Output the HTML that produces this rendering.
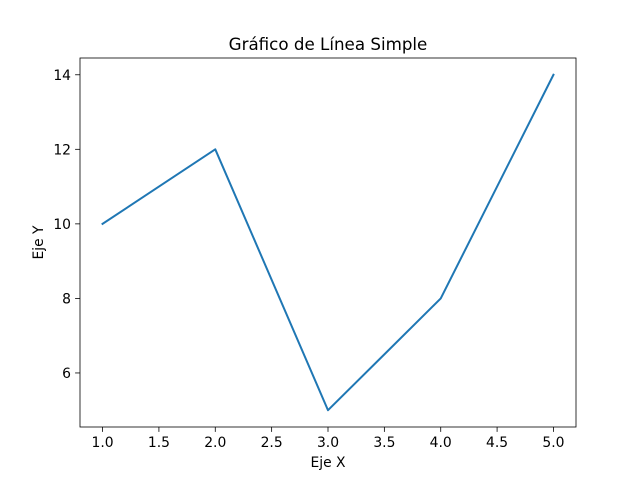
<!DOCTYPE html>
<html><head><meta charset="utf-8"><style>body{margin:0;background:#fff}svg{display:block;font-family:"DejaVu Sans","Liberation Sans",sans-serif}</style></head>
<body>
<svg id="chart" width="640" height="480"></svg>
<script>
const xValues = [1, 2, 3, 4, 5];
const yValues = [10, 12, 5, 8, 14];
const xTicks = [1.0, 1.5, 2.0, 2.5, 3.0, 3.5, 4.0, 4.5, 5.0];
const yTicks = [6, 8, 10, 12, 14];

const L = 80, R = 576, T = 58, B = 427;
const xMin = 0.8, xMax = 5.2, yMin = 4.55, yMax = 14.45;
const sx = v => L + (v - xMin) / (xMax - xMin) * (R - L);
const sy = v => B - (v - yMin) / (yMax - yMin) * (B - T);
const NS = 'http://www.w3.org/2000/svg';
const svg = document.getElementById('chart');
function mk(tag, attrs, parent) {
  const e = document.createElementNS(NS, tag);
  for (const k in attrs) e.setAttribute(k, attrs[k]);
  (parent || svg).appendChild(e);
  return e;
}

const xg = mk('g', {});


xTicks.forEach(t => {
  const x = sx(t);
  mk('line', {x1: x, x2: x, y1: B, y2: B + 4.9, stroke: '#000', 'stroke-width': 0.8}, xg);
  const tx = mk('text', {x: x, y: B + 20, 'font-size': 13.9, 'text-anchor': 'middle'}, xg);
  
  
  tx.textContent = t.toFixed(1);
});
const yg = mk('g', {});


yTicks.forEach(t => {
  const y = sy(t);
  mk('line', {x1: L - 4.9, x2: L, y1: y, y2: y, stroke: '#000', 'stroke-width': 0.8}, yg);
  const tx = mk('text', {x: L - 9, y: y + 5, 'font-size': 13.9, 'text-anchor': 'end'}, yg);
  
  
  tx.textContent = t;
});

const pts = xValues.map((v, i) => sx(v) + ',' + sy(yValues[i])).join(' ');
const line = mk('polyline', {points: pts, fill: 'none', stroke: '#1f77b4', 'stroke-width': 2, 'stroke-linejoin': 'round', 'stroke-linecap': 'square'});



const frame = mk('rect', {x: L, y: T, width: R - L, height: B - T, fill: 'none', stroke: '#000', 'stroke-width': 0.8});



const title = mk('text', {x: (L + R) / 2, y: T - 8, 'font-size': 16.7, 'text-anchor': 'middle'});


title.textContent = 'Gráfico de Línea Simple';
const xl = mk('text', {x: (L + R) / 2, y: 467, 'font-size': 13.9, 'text-anchor': 'middle'});


xl.textContent = 'Eje X';
const yl = mk('text', {x: 43, y: (T + B) / 2, 'font-size': 13.9, 'text-anchor': 'middle', transform: 'rotate(-90 43 ' + (T + B) / 2 + ')'});


yl.textContent = 'Eje Y';
</script>
</body></html>
